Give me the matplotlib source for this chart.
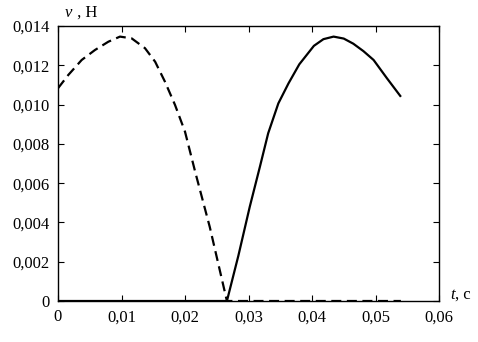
import matplotlib
matplotlib.use("Agg")
import matplotlib.pyplot as plt

# dashed branch
t_dash = [0.0, 0.00163, 0.00373, 0.00583, 0.00793, 0.00976, 0.0116, 0.0137, 0.0153,
          0.01685, 0.01843, 0.0200, 0.0216, 0.0239, 0.0266, 0.0400, 0.0540]
v_dash = [0.01083, 0.01151, 0.01227, 0.01278, 0.0132, 0.01346, 0.01337, 0.01287, 0.01218,
          0.01116, 0.00998, 0.00862, 0.00658, 0.00377, 0.0, 0.0, 0.0]

# solid branch
t_solid = [0.0, 0.0266, 0.0284, 0.0302, 0.0318, 0.0331, 0.0347, 0.0363, 0.0380,
           0.0403, 0.0418, 0.0434, 0.0450, 0.0465, 0.0481, 0.0497, 0.0518, 0.0539]
v_solid = [0.0, 0.0, 0.0023, 0.0048, 0.00684, 0.00854, 0.01006, 0.01108, 0.01205,
           0.01299, 0.01333, 0.01346, 0.01336, 0.01310, 0.01272, 0.01227, 0.01134, 0.01044]

xticks = [0, 0.01, 0.02, 0.03, 0.04, 0.05, 0.06]
xlabels = ["0", "0,01", "0,02", "0,03", "0,04", "0,05", "0,06"]
yticks = [0, 0.002, 0.004, 0.006, 0.008, 0.010, 0.012, 0.014]
ylabels = ["0", "0,002", "0,004", "0,006", "0,008", "0,010", "0,012", "0,014"]

plt.rcParams["font.family"] = ["Liberation Serif", "DejaVu Serif"]

fig = plt.figure(figsize=(4.78, 3.42), dpi=100)
ax = fig.add_axes([58 / 478, 1 - 301 / 342, 381 / 478, 275 / 342])

ax.plot(t_solid, v_solid, "-", color="black", lw=1.6, solid_joinstyle="round")
ax.plot(t_dash, v_dash, color="black", lw=1.6, dashes=(4.5, 2.5))

ax.set_xlim(0, 0.06)
ax.set_ylim(0, 0.014)
ax.set_xticks(xticks)
ax.set_xticklabels(xlabels)
ax.set_yticks(yticks)
ax.set_yticklabels(ylabels)
ax.tick_params(direction="in", top=True, right=True, length=4, labelsize=12, pad=6)
for s in ax.spines.values():
    s.set_linewidth(1.0)

fig.text(65 / 478, 1 - 13 / 342, "v", style="italic", fontsize=12, va="center", ha="left")
fig.text(73 / 478, 1 - 13 / 342, " , Н", fontsize=12, va="center", ha="left")
fig.text(450 / 478, 1 - 295 / 342, "t", style="italic", fontsize=12, va="center", ha="left")
fig.text(455 / 478, 1 - 295 / 342, ", с", fontsize=12, va="center", ha="left")

fig.savefig("out.png", dpi=100)
